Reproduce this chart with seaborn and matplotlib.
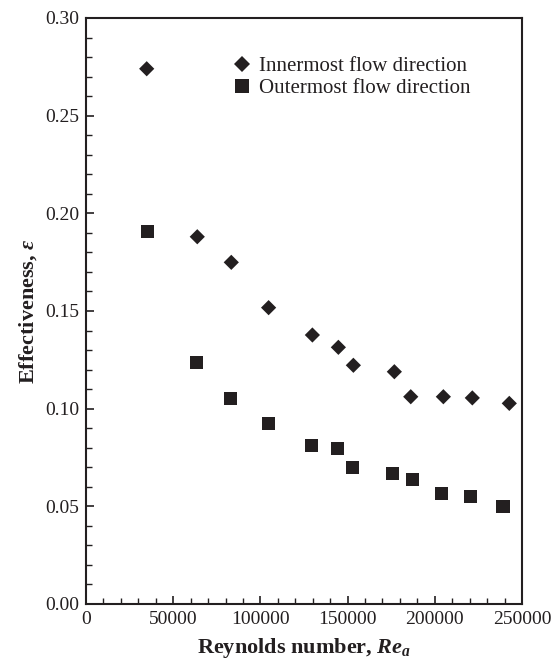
import matplotlib
matplotlib.use("Agg")
import matplotlib.pyplot as plt
import seaborn as sns
import pandas as pd
from matplotlib.ticker import MultipleLocator
from matplotlib.lines import Line2D

inner_re = [34800, 63800, 83300, 104700, 129800, 144700, 153300, 176800, 186200, 204900, 221500, 242700]
inner_eff = [0.2740, 0.1880, 0.1749, 0.1517, 0.1377, 0.1314, 0.1222, 0.1189, 0.1061, 0.1061, 0.1055, 0.1027]
outer_re = [35400, 63500, 83100, 104400, 129400, 144300, 152900, 175600, 187300, 203700, 220200, 239100]
outer_eff = [0.1906, 0.1236, 0.1051, 0.0925, 0.0809, 0.0794, 0.0701, 0.0667, 0.0638, 0.0568, 0.0548, 0.0498]
labels = ["Innermost flow direction", "Outermost flow direction"]

sns.set_theme(style="ticks")
plt.rcParams["font.family"] = ["Liberation Serif", "DejaVu Serif"]
plt.rcParams["mathtext.fontset"] = "custom"
plt.rcParams["mathtext.it"] = "Liberation Serif:italic:bold"
plt.rcParams["mathtext.rm"] = "Liberation Serif:bold"
plt.rcParams["mathtext.bf"] = "Liberation Serif:bold"

df = pd.concat([
    pd.DataFrame({"Re": inner_re, "eff": inner_eff, "series": labels[0]}),
    pd.DataFrame({"Re": outer_re, "eff": outer_eff, "series": labels[1]}),
])

fig = plt.figure(figsize=(5.57, 6.63), dpi=100)
ax = fig.add_axes([0.1544, 0.089, 0.9372 - 0.1544, 0.9729 - 0.089])
col = "#231f20"
markers = {labels[0]: "D", labels[1]: "s"}
sizes = {labels[0]: 60, labels[1]: 88}
sns.scatterplot(data=df, x="Re", y="eff", style="series", markers=markers,
                hue="series", palette={labels[0]: col, labels[1]: col},
                size="series", sizes=sizes,
                linewidth=0, ax=ax, legend=False)
ax.set_xlim(0, 250000)
ax.set_ylim(0, 0.30)
ax.xaxis.set_major_locator(MultipleLocator(50000))
ax.xaxis.set_minor_locator(MultipleLocator(10000))
ax.yaxis.set_major_locator(MultipleLocator(0.05))
ax.yaxis.set_minor_locator(MultipleLocator(0.01))
ax.xaxis.set_major_formatter(matplotlib.ticker.FuncFormatter(lambda v, p: f"{int(v)}"))
ax.yaxis.set_major_formatter(matplotlib.ticker.FuncFormatter(lambda v, p: f"{v:.2f}"))
ax.tick_params(which="both", direction="in", top=False, right=False, colors=col, labelcolor=col, labelsize=14)
ax.tick_params(which="major", length=6, width=1.2, pad=5)
ax.tick_params(which="minor", length=4, width=1.0)
for sp in ax.spines.values():
    sp.set_linewidth(1.5)
    sp.set_color(col)
ax.set_xlabel(r"Reynolds number, $Re_a$", fontsize=16, fontweight="bold", color=col, labelpad=6)
ax.set_ylabel(r"Effectiveness, $\varepsilon$", fontsize=16, fontweight="bold", color=col, labelpad=4)
handles = [Line2D([], [], linestyle="", marker=markers[lab], markersize=sizes[lab] ** 0.5,
                  markerfacecolor=col, markeredgewidth=0, color=col) for lab in labels]
leg = ax.legend(handles, labels, frameon=False, loc="upper left", bbox_to_anchor=(0.334, 0.934),
                fontsize=15, handlelength=1.0, handletextpad=0.32, labelspacing=0.12,
                borderpad=0, borderaxespad=0)
for t in leg.get_texts():
    t.set_color(col)
fig.savefig("out.png", dpi=100)
